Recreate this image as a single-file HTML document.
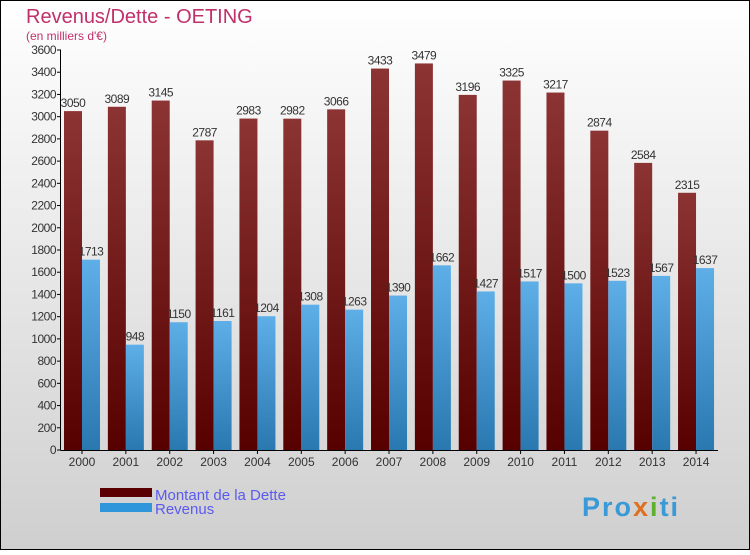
<!DOCTYPE html>
<html><head><meta charset="utf-8"><style>
body{margin:0}
svg text{font-family:"Liberation Sans",sans-serif}
</style></head><body>
<svg id="c" width="750" height="550" xmlns="http://www.w3.org/2000/svg">
<defs>
<linearGradient id="bg" x1="0" y1="0" x2="0" y2="1"><stop offset="0" stop-color="#ffffff"/><stop offset="1" stop-color="#cfcfcf"/></linearGradient>
<linearGradient id="gd" x1="0" y1="0" x2="0" y2="1"><stop offset="0" stop-color="#8c3434"/><stop offset="1" stop-color="#560000"/></linearGradient>
<linearGradient id="gr" x1="0" y1="0" x2="0" y2="1"><stop offset="0" stop-color="#5eaee8"/><stop offset="1" stop-color="#2a78b0"/></linearGradient>
</defs>
<rect x="0.5" y="0.5" width="749" height="549" fill="url(#bg)" stroke="#000"/>
<text x="26" y="23" font-size="20" fill="#c0306a">Revenus/Dette - OETING</text>
<text x="26" y="40" font-size="12" fill="#c0306a">(en milliers d'€)</text>
<g id="axes"></g><g id="bars"></g>
<rect x="100" y="488" width="52" height="9" fill="#5a0000"/>
<rect x="100" y="503" width="52" height="9" fill="#3096dc"/>
<text x="155" y="500" font-size="15" fill="#5a5af0">Montant de la Dette</text>
<text x="155" y="514" font-size="15" fill="#5a5af0">Revenus</text>
<text x="582" y="516" font-size="27" font-weight="bold" letter-spacing="2" fill="#3a9ad8">Pro<tspan fill="#e07020">x</tspan><tspan fill="#60b030">i</tspan>ti</text>
</svg>
<script>
const years=["2000","2001","2002","2003","2004","2005","2006","2007","2008","2009","2010","2011","2012","2013","2014"];
const dette=[3050,3089,3145,2787,2983,2982,3066,3433,3479,3196,3325,3217,2874,2584,2315];
const revenus=[1713,948,1150,1161,1204,1308,1263,1390,1662,1427,1517,1500,1523,1567,1637];
const yTicks=[0,200,400,600,800,1000,1200,1400,1600,1800,2000,2200,2400,2600,2800,3000,3200,3400,3600];
const NS="http://www.w3.org/2000/svg";
const y=v=>450-v*400/3600, x=i=>82+i*43.86;
function mk(t,a,p){const e=document.createElementNS(NS,t);for(const k in a)e.setAttribute(k,a[k]);p.appendChild(e);return e;}
const ax=document.getElementById('axes'),bs=document.getElementById('bars');
const yl=mk('line',{x1:60.5,y1:50,x2:60.5,y2:450,stroke:'#000'},ax);


const xl=mk('line',{x1:60.5,y1:450.5,x2:718,y2:450.5,stroke:'#000'},ax);


yTicks.forEach(v=>{mk('line',{x1:57,x2:61,y1:y(v),y2:y(v),stroke:'#000'},ax);
const t=mk('text',{x:56,y:y(v)+4,'font-size':12,'text-anchor':'end',fill:'#333','letter-spacing':'-0.5'},ax);t.textContent=v;

});
years.forEach((yr,i)=>{const c=x(i);
mk('line',{x1:c,x2:c,y1:450,y2:454,stroke:'#000'},ax);
const t=mk('text',{x:c,y:466,'font-size':12,'text-anchor':'middle',fill:'#333'},ax);t.textContent=yr;


const d=mk('rect',{x:c-18,y:y(dette[i]),width:18,height:450-y(dette[i]),fill:'url(#gd)'},bs);


const r=mk('rect',{x:c,y:y(revenus[i]),width:18,height:450-y(revenus[i]),fill:'url(#gr)'},bs);


const dl=mk('text',{x:c-9,y:y(dette[i])-4,'font-size':12,'text-anchor':'middle',fill:'#333','letter-spacing':'-0.5'},bs);dl.textContent=dette[i];


const rl=mk('text',{x:c+9,y:y(revenus[i])-4,'font-size':12,'text-anchor':'middle',fill:'#333','letter-spacing':'-0.5'},bs);rl.textContent=revenus[i];

});
</script>
</body></html>
